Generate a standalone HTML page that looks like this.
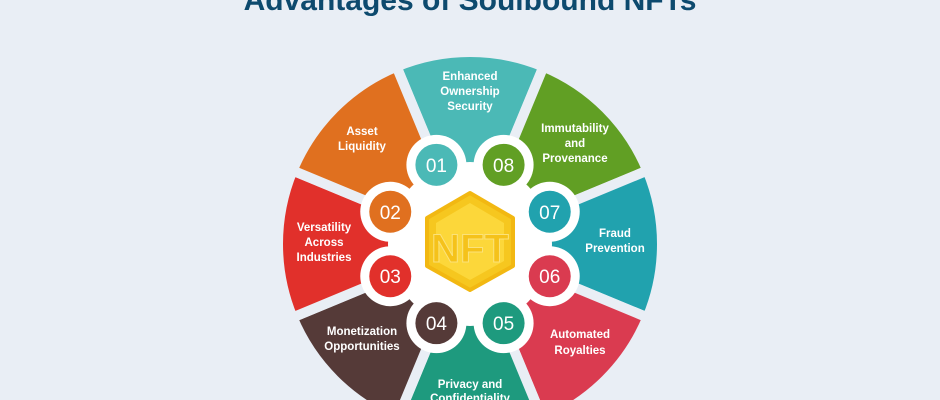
<!DOCTYPE html>
<html><head><meta charset="utf-8"><style>
html,body{margin:0;padding:0;background:#e9eef5;width:940px;height:400px;overflow:hidden;}
svg{display:block}
.l{font-family:"Liberation Sans",sans-serif;font-weight:bold;font-size:11.5px;fill:#fff;text-anchor:middle}
.n{font-family:"Liberation Sans",sans-serif;font-size:19px;fill:#fff;text-anchor:middle}
</style></head><body>
<svg width="940" height="400" viewBox="0 0 940 400" xmlns="http://www.w3.org/2000/svg">
<rect width="940" height="400" fill="#e9eef5"/>
<text x="470" y="10" text-anchor="middle" font-family="Liberation Sans, sans-serif" font-weight="bold" font-size="30" fill="#0d4a6e">Advantages of Soulbound NFTs</text>
<g id="sec" stroke="#e9eef5" stroke-width="10"></g>
<circle cx="470" cy="244" r="82" fill="#fff"/>
<g id="num"></g>
<polygon points="470,193 513,218 513,266 470,290 427,266 427,218" fill="#f6c71f" stroke="#f2b812" stroke-width="4" stroke-linejoin="round"/>
<polygon points="470,203 504,223 504,261 470,280 436,261 436,223" fill="#fcd73a"/>
<text x="470" y="262" text-anchor="middle" font-family="Liberation Sans, sans-serif" font-weight="bold" font-size="40" fill="#f5c21a" stroke="#fbe27a" stroke-width="1">NFT</text>
<text class="l" x="470" y="80">Enhanced</text><text class="l" x="470" y="95">Ownership</text><text class="l" x="470" y="110">Security</text>
<text class="l" x="362" y="135">Asset</text><text class="l" x="362" y="150">Liquidity</text>
<text class="l" x="575" y="132">Immutability</text><text class="l" x="575" y="147">and</text><text class="l" x="575" y="162">Provenance</text>
<text class="l" x="324" y="231">Versatility</text><text class="l" x="324" y="246">Across</text><text class="l" x="324" y="261">Industries</text>
<text class="l" x="615" y="237">Fraud</text><text class="l" x="615" y="252">Prevention</text>
<text class="l" x="362" y="335">Monetization</text><text class="l" x="362" y="350">Opportunities</text>
<text class="l" x="580" y="338">Automated</text><text class="l" x="580" y="354">Royalties</text>
<text class="l" x="470" y="388">Privacy and</text><text class="l" x="470" y="402">Confidentiality</text>
</svg>
<script>
(function(){
var ns="http://www.w3.org/2000/svg",cx=470,cy=244,R=192,r0=40;
var cols=["#4bb9b6","#619f24","#21a2ae","#da3b50","#1e9a7e","#553a38","#e1302b","#e0701f"];
var sec=document.getElementById("sec");
function pt(a,r){a=a*Math.PI/180;return [cx+r*Math.cos(a),cy+r*Math.sin(a)];}
for(var i=0;i<8;i++){
 var a0=-112.5+45*i,a1=a0+45;
 var p1=pt(a0,r0),p2=pt(a0,R),p3=pt(a1,R),p4=pt(a1,r0);
 var d="M"+p1+"L"+p2+"A"+R+","+R+" 0 0 1 "+p3+"L"+p4+"Z";
 var p=document.createElementNS(ns,"path");p.setAttribute("d",d);p.setAttribute("fill",cols[i]);sec.appendChild(p);
}
var num=document.getElementById("num");
var nums=[["01",-113,"#4bb9b6"],["08",-67,"#619f24"],["07",-22,"#21a2ae"],["06",22,"#da3b50"],["05",67,"#1e9a7e"],["04",113,"#553a38"],["03",158,"#e1302b"],["02",202,"#e0701f"]];
nums.forEach(function(n){
 var c=pt(n[1],86);
 var w=document.createElementNS(ns,"circle");w.setAttribute("cx",c[0]);w.setAttribute("cy",c[1]);w.setAttribute("r",30);w.setAttribute("fill","#fff");num.appendChild(w);
 var k=document.createElementNS(ns,"circle");k.setAttribute("cx",c[0]);k.setAttribute("cy",c[1]);k.setAttribute("r",21);k.setAttribute("fill",n[2]);num.appendChild(k);
 var t=document.createElementNS(ns,"text");t.setAttribute("x",c[0]);t.setAttribute("y",c[1]+7);t.setAttribute("class","n");t.textContent=n[0];num.appendChild(t);
});
})();
</script>
</body></html>
